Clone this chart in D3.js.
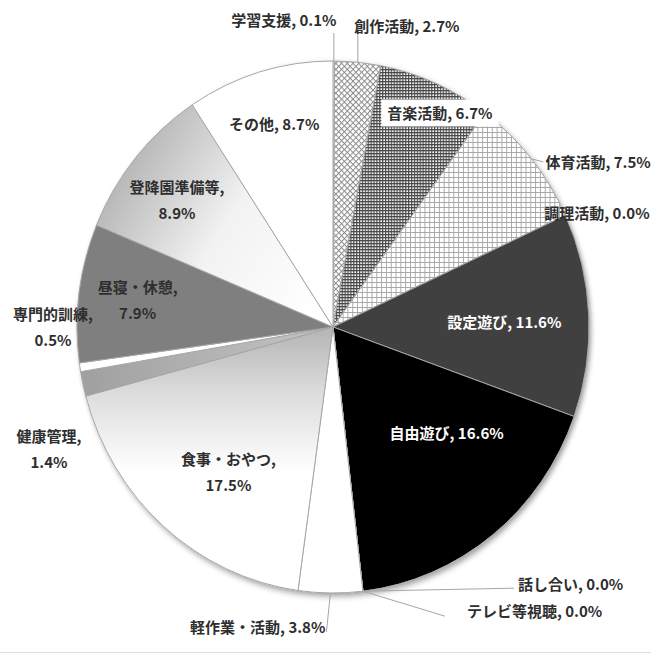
<!DOCTYPE html>
<html><head><meta charset="utf-8">
<script src="https://cdn.jsdelivr.net/npm/d3@7"></script>
<style>body{margin:0;background:#fff;} svg{display:block}</style>
</head><body>
<script>
// ---- data ----
const categories = ["学習支援","創作活動","音楽活動","体育活動","調理活動","設定遊び","自由遊び","話し合い","テレビ等視聴","軽作業・活動","食事・おやつ","健康管理","専門的訓練","昼寝・休憩","登降園準備等","その他"];
const values = [0.1, 2.7, 6.7, 7.5, 0.0, 11.6, 16.6, 0.0, 0.0, 3.8, 17.5, 1.4, 0.5, 7.9, 8.9, 8.7];

// ---- styles ----
const fills = ["#ffffff","url(#pCross)","url(#pDense)","url(#pGrid)","#ffffff","#404040","#000000","#ffffff","#ffffff","#ffffff","url(#gMeal)","url(#gHealth)","#ffffff","#7f7f7f","url(#gPrep)","#ffffff"];
// label layout relative to arc point at radius factor k (offsets in px)
const labelLayout = {
  "学習支援":   {k:1,    dx:-50, dy:-42, anchor:"middle", leader:[0,-28]},
  "創作活動":   {k:1,    dx:49,  dy:-37, anchor:"middle", leader:[0,-29]},
  "音楽活動":   {k:0.8,  dx:25,  dy:-19, anchor:"middle", box:true},
  "体育活動":   {k:1,    dx:14,  dy:3,   anchor:"start",  leader:[12,3]},
  "調理活動":   {k:1,    dx:-21, dy:-3,  anchor:"start"},
  "設定遊び":   {k:0.67, dx:0,   dy:3,   anchor:"middle", color:"#ffffff"},
  "自由遊び":   {k:0.6,  dx:18,  dy:-19, anchor:"middle", color:"#ffffff"},
  "話し合い":   {k:1,    dx:155, dy:-8,  anchor:"start",  leader:[151,-3]},
  "テレビ等視聴":{k:1,   dx:104, dy:19,  anchor:"start",  leader:[82,25]},
  "軽作業・活動":{k:1,   dx:-5,  dy:34,  anchor:"end",    leader:[-4,39]},
  "食事・おやつ":{k:0.6, dx:-3,  dy:25,  anchor:"middle", two:true},
  "健康管理":   {k:1,    dx:-34, dy:65,  anchor:"middle", two:true},
  "専門的訓練": {k:1,    dx:-27, dy:-41, anchor:"middle", two:true},
  "昼寝・休憩": {k:0.75, dx:-5,  dy:-2,  anchor:"middle", two:true},
  "登降園準備等":{k:0.75,dx:-8,  dy:0,   anchor:"middle", two:true},
  "その他":     {k:0.8,  dx:0,   dy:0,   anchor:"middle"}
};

const W = 651, H = 655;
const cx = 333, cy = 327, rx = 256, ry = 266;
const FONT = "'Noto Sans CJK JP','Noto Sans',sans-serif";
const textColor = "#2e2e2e";
const lineColor = "#a6a6a6";

const svg = d3.select("body").append("svg").attr("width", W).attr("height", H);
const defs = svg.append("defs");

// patterns
const pc = defs.append("pattern").attr("id","pCross").attr("patternUnits","userSpaceOnUse")
  .attr("width",4.2).attr("height",4.2).attr("patternTransform","rotate(45)");
pc.append("rect").attr("width",4.2).attr("height",4.2).attr("fill","#fff");
pc.append("rect").attr("width",4.2).attr("height",1).attr("fill","#8a8a8a");
pc.append("rect").attr("width",1).attr("height",4.2).attr("fill","#8a8a8a");

const pd = defs.append("pattern").attr("id","pDense").attr("patternUnits","userSpaceOnUse")
  .attr("width",3).attr("height",3);
pd.append("rect").attr("width",3).attr("height",3).attr("fill","#ffffff");
pd.append("rect").attr("width",3).attr("height",1.3).attr("fill","#4a4a4a");
pd.append("rect").attr("width",1.3).attr("height",3).attr("fill","#4a4a4a");

const pg = defs.append("pattern").attr("id","pGrid").attr("patternUnits","userSpaceOnUse")
  .attr("width",5).attr("height",5);
pg.append("rect").attr("width",5).attr("height",5).attr("fill","#ffffff");
pg.append("rect").attr("width",5).attr("height",1).attr("fill","#a8a8a8");
pg.append("rect").attr("width",1).attr("height",5).attr("fill","#a8a8a8");

// gradients
function lin(id, x1,y1,x2,y2, stops){
  const g = defs.append("linearGradient").attr("id",id)
    .attr("x1",x1).attr("y1",y1).attr("x2",x2).attr("y2",y2);
  stops.forEach(s => g.append("stop").attr("offset",s[0]).attr("stop-color",s[1]));
}
lin("gMeal", 0,0,0,1, [[0,"#b4b4b4"],[0.25,"#dcdcdc"],[0.55,"#ffffff"],[1,"#ffffff"]]);
lin("gHealth", 0,0,1,0, [[0,"#a0a0a0"],[1,"#c4c4c4"]]);
lin("gPrep", 0,0.2,1,0.8, [[0,"#a6a6a6"],[0.55,"#f2f2f2"],[1,"#ffffff"]]);

// shadow
const f = defs.append("filter").attr("id","shadow").attr("x","-10%").attr("y","-10%").attr("width","125%").attr("height","125%");
f.append("feDropShadow").attr("dx",2).attr("dy",3).attr("stdDeviation",3)
  .attr("flood-color","#000").attr("flood-opacity",0.4);

// pie
const pie = d3.pie().sort(null).value(d => d)(values);
const arc = d3.arc().innerRadius(0).outerRadius(ry);

const g = svg.append("g").attr("transform", `translate(${cx},${cy}) scale(${rx/ry},1)`);
const sg = g.append("g").attr("filter","url(#shadow)");
sg.append("path").attr("d", arc({startAngle:0,endAngle:2*Math.PI})).attr("fill","#fff");
g.selectAll("path.slice").data(pie).join("path")
  .attr("class","slice")
  .attr("d", arc)
  .attr("fill", (d,i) => fills[i])
  .attr("stroke", lineColor)
  .attr("stroke-width", 1)
  .attr("vector-effect","non-scaling-stroke");

// labels
function polar(a, k){ return [cx + k*rx*Math.sin(a), cy - k*ry*Math.cos(a)]; }
const fmt = d3.format(".1f");
const lg = svg.append("g").attr("font-family", FONT).attr("font-weight", 700).attr("font-size", 15);

pie.forEach((d, i) => {
  const name = categories[i];
  const L = labelLayout[name];
  const a = (d.startAngle + d.endAngle) / 2;
  const p = polar(a, L.k);
  const x = p[0] + L.dx, y = p[1] + L.dy;
  const vtxt = fmt(values[i]) + "%";
  if (L.leader) {
    lg.append("line")
      .attr("x1", p[0]).attr("y1", p[1])
      .attr("x2", p[0] + L.leader[0]).attr("y2", p[1] + L.leader[1])
      .attr("stroke", lineColor).attr("stroke-width", 1);
  }
  const fill = L.color || textColor;
  if (L.two) {
    lg.append("text").attr("x", x).attr("y", y - 13).attr("text-anchor", L.anchor)
      .attr("dominant-baseline","central").attr("fill", fill).text(name + ",");
    lg.append("text").attr("x", x).attr("y", y + 13).attr("text-anchor", L.anchor)
      .attr("dominant-baseline","central").attr("fill", fill).text(vtxt);
  } else {
    const t = lg.append("text").attr("x", x).attr("y", y).attr("text-anchor", L.anchor)
      .attr("dominant-baseline","central").attr("fill", fill).text(name + ", " + vtxt);
    if (L.box) {
      const bb = t.node().getBBox();
      lg.insert("rect", () => t.node())
        .attr("x", bb.x - 6).attr("y", bb.y - 3)
        .attr("width", bb.width + 12).attr("height", bb.height + 6)
        .attr("fill", "#ffffff");
    }
  }
});

// bottom border line
svg.append("line").attr("x1",0).attr("x2",W).attr("y1",H-2.5).attr("y2",H-2.5)
  .attr("stroke","#dedede").attr("stroke-width",1);
</script>
</body></html>
